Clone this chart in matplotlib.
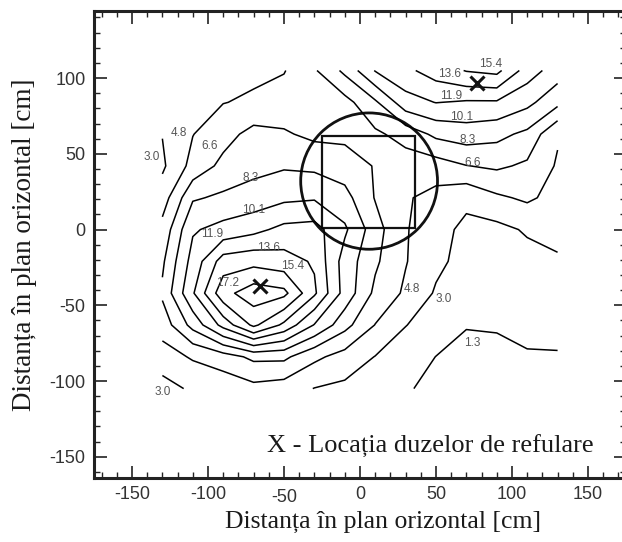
import numpy as np
import matplotlib.pyplot as plt
from matplotlib.patches import Circle, Rectangle
from matplotlib.transforms import ScaledTranslation

plt.rcParams['axes.unicode_minus'] = False

# measurement grid, horizontal distances in cm
x_cm = [-130, -110, -90, -70, -50, -30, -10, 10, 30, 50, 70, 90, 110, 130]
y_cm = [-105, -84, -63, -42, -21, 0, 21, 42, 63, 84, 105]

# measured field, one row per y_cm value (bottom row first)
row_m105 = [2.3, 3.3, 3.6, 4.26, 3.9, 2.95, 2.6, 2.0, 1.45, 0.9, 0.8, 0.7, 0.9, 0.9]
row_m84 = [4.0, 5.0, 5.8, 7.0, 7.0, 5.2, 4.1, 2.95, 2.1, 1.28, 1.0, 1.0, 1.2, 1.2]
row_m63 = [5.6, 8.9, 12.5, 15.8, 13.2, 10.0, 7.2, 4.75, 3.05, 2.2, 1.35, 1.4, 1.6, 1.7]
row_m42 = [6.9, 11.7, 16.6, 18.2, 17.7, 13.9, 9.4, 6.2, 4.5, 2.8, 2.0, 2.0, 2.1, 2.2]
row_m21 = [6.3, 10.8, 14.4, 14.8, 14.3, 13.4, 9.3, 6.9, 4.9, 3.4, 2.4, 2.4, 2.4, 2.8]
row_0 = [5.4, 9.9, 10.7, 11.4, 12.4, 12.6, 10.4, 7.3, 4.95, 3.6, 2.6, 2.5, 3.2, 3.5]
row_21 = [3.9, 8.1, 8.6, 9.0, 9.7, 9.9, 8.9, 6.5, 5.0, 4.2, 3.4, 4.5, 5.1, 4.2]
row_42 = [2.7, 5.4, 7.1, 7.8, 8.1, 7.9, 7.4, 6.5, 5.8, 5.8, 6.55, 6.9, 6.3, 4.6]
row_63 = [3.05, 4.75, 5.9, 7.2, 6.8, 6.2, 6.2, 6.3, 7.2, 8.7, 9.2, 8.8, 7.9, 5.0]
row_84 = [3.6, 4.4, 4.75, 5.05, 5.6, 5.9, 6.0, 8.0, 11.2, 11.95, 11.7, 11.7, 10.6, 8.8]
row_105 = [3.8, 4.0, 4.2, 4.45, 4.7, 6.4, 8.7, 12.0, 13.2, 14.4, 15.5, 15.9, 12.8, 11.0]

levels = [1.3, 3.0, 4.8, 6.6, 8.3, 10.1, 11.9, 13.6, 15.4, 17.2]

# discharge nozzles
nozzle_x = [-66, 77]
nozzle_y = [-37, 97]

X, Y = np.meshgrid(x_cm, y_cm)
Z = np.array([row_m105, row_m84, row_m63, row_m42, row_m21, row_0,
              row_21, row_42, row_63, row_84, row_105])

fig = plt.figure(figsize=(6.22, 5.42), dpi=100)
ax = fig.add_axes([0.1511, 0.1181, 0.8553, 0.8622])

ax.contour(X, Y, Z, levels=levels, colors='black', linewidths=1.1)

# (level index, x, y) for the contour value tags
tags = [(1, -137, 48), (2, -119, 64), (3, -99, 55), (4, -72, 34), (5, -70, 13),
        (6, -97, -3), (7, -60, -12), (8, -44, -24), (9, -87, -35), (1, -130, -107),
        (2, 34, -39), (1, 55, -46), (0, 74, -75), (8, 86, 109), (7, 59, 103),
        (6, 60, 88), (5, 67, 74), (4, 71, 59), (3, 74, 44)]
for i, tx, ty in tags:
    ax.text(tx, ty, f"{levels[i]:.1f}", fontsize=8.5, color='#555555',
            family='Liberation Sans', ha='center', va='center')

ax.add_patch(Circle((6, 32), 45, fill=False, lw=2.0, ec='#111111'))
ax.add_patch(Rectangle((-25, 1), 61, 61, fill=False, lw=1.6, ec='#111111'))

ax.plot(nozzle_x, nozzle_y, 'x', color='#111111', ms=10, mew=2.2)

ax.text(-61, -143, "X - Locația duzelor de refulare", fontsize=19,
        family='Liberation Serif', ha='left', va='center', color='#1a1a1a')

ax.set_xlim(-175, 175)
ax.set_ylim(-164, 144.5)
ax.set_xticks([-150, -100, -50, 0, 50, 100, 150])
ax.set_yticks([-150, -100, -50, 0, 50, 100])
ax.set_xticks(np.arange(-170, 180, 10), minor=True)
ax.set_yticks(np.arange(-160, 150, 10), minor=True)
ax.tick_params(which='both', direction='in', top=True, right=True,
               colors='#222222', labelcolor='#333333')
ax.tick_params(which='major', length=9, width=1.2, labelsize=13, pad=6)
ax.tick_params(which='minor', length=4.5, width=1.0)
for lab in ax.get_xticklabels() + ax.get_yticklabels():
    lab.set_family('Liberation Sans')
# the -50 tick label sits a little lower than its neighbours
for lab in ax.get_xticklabels():
    if lab.get_text() == '-50':
        lab.set_transform(lab.get_transform() +
                          ScaledTranslation(0, -0.03, fig.dpi_scale_trans))
for sp in ax.spines.values():
    sp.set_linewidth(2.2)
    sp.set_color('#222222')

ax.set_xlabel("Distanța în plan orizontal [cm]", fontsize=18.5,
              family='Liberation Serif', color='#1a1a1a')
ax.set_ylabel("Distanța în plan orizontal [cm]", fontsize=19.5,
              family='Liberation Serif', color='#1a1a1a')
ax.xaxis.set_label_coords(0.543, -0.094)
ax.xaxis.label.set_va('center')
ax.yaxis.set_label_coords(-0.13, 0.5)
ax.yaxis.label.set_va('center')

fig.savefig('out.png', dpi=100)
